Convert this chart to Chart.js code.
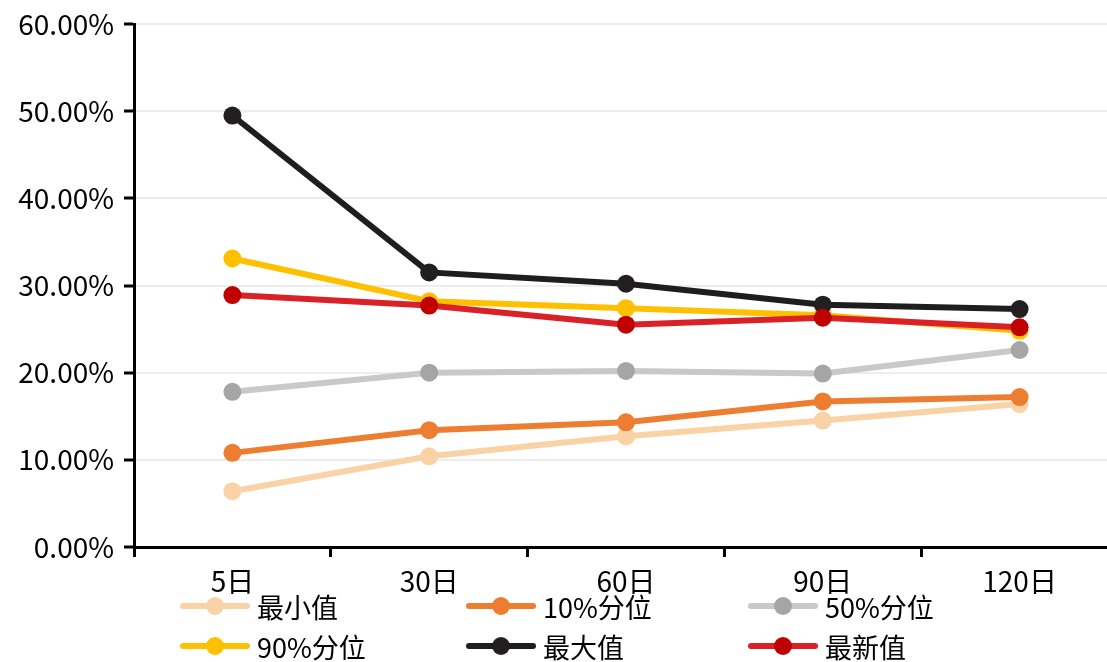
<!DOCTYPE html>
<html>
<head>
<meta charset="utf-8">
<script src="https://cdn.jsdelivr.net/npm/chart.js@4"></script>
<style>
    html, body { margin: 0; padding: 0; background: #fff; overflow: hidden; }
    #wrap { position: relative; width: 1127px; height: 662px; }
    #legend {
        position: absolute; left: 180px; top: 586px;
        display: grid; grid-template-columns: 286px 282px 282px;
        row-gap: 0px;
        font-family: "Noto Sans CJK SC", sans-serif; font-size: 27px; color: #000;
    }
    .item { display: flex; align-items: center; height: 40px; }
    .icon { position: relative; width: 70px; height: 18px; margin-right: 7px; }
    .icon .ln { position: absolute; left: 0; right: 0; top: 6px; height: 6px; border-radius: 3px; }
    .icon .pt { position: absolute; left: 26px; top: 0; width: 18px; height: 18px; border-radius: 50%; }
</style>
</head>
<body>
<div id="wrap">
    <canvas id="lineChart" width="1127" height="662"></canvas>
    <div id="legend"></div>
</div>
<script>
const categories = ['5日', '30日', '60日', '90日', '120日'];
const seriesNames = ['最小值', '10%分位', '50%分位', '90%分位', '最大值', '最新值'];

const minValues = [6.4, 10.4, 12.7, 14.5, 16.4];
const p10Values = [10.8, 13.4, 14.3, 16.7, 17.2];
const p50Values = [17.8, 20.0, 20.2, 19.9, 22.6];
const p90Values = [33.1, 28.2, 27.4, 26.6, 24.8];
const maxValues = [49.5, 31.5, 30.2, 27.8, 27.3];
const latestValues = [28.9, 27.7, 25.5, 26.3, 25.2];

const lineColors = ['#F9D3A5', '#ED7D31', '#C9C9C9', '#FFC000', '#1E1E1E', '#DA2128'];
const pointColors = ['#F9D3A5', '#ED7D31', '#A5A5A5', '#FFC000', '#231F20', '#C00000'];

const allValues = [minValues, p10Values, p50Values, p90Values, maxValues, latestValues];

document.addEventListener('DOMContentLoaded', () => {
    const datasets = allValues.map((values, i) => ({
        label: seriesNames[i],
        data: values,
        borderColor: lineColors[i],
        backgroundColor: pointColors[i],
        pointBackgroundColor: pointColors[i],
        pointBorderColor: pointColors[i],
        borderWidth: 6,
        pointRadius: 9,
        pointBorderWidth: 0,
        tension: 0,
        order: allValues.length - i  // last series drawn on top
    }));

    const ctx = document.getElementById('lineChart').getContext('2d');
    const font = { family: '"Noto Sans CJK SC", sans-serif', size: 28 };

    const chart = new Chart(ctx, {
        type: 'line',
        data: {
            labels: categories,
            datasets: datasets
        },
        options: {
            responsive: false,
            animation: false,
            layout: { padding: { top: 24, right: 0, left: 0, bottom: 0 } },
            scales: {
                x: {
                    offset: true,
                    grid: {
                        offset: true,
                        drawOnChartArea: false,
                        drawTicks: true,
                        tickLength: 10,
                        tickColor: '#000',
                        tickWidth: 3
                    },
                    border: { color: '#000', width: 3 },
                    ticks: { color: '#000', font: font, padding: 8, maxRotation: 0, autoSkip: false },
                    afterFit: s => { s.height = 115; }
                },
                y: {
                    min: 0,
                    max: 60,
                    ticks: {
                        stepSize: 10,
                        color: '#000',
                        font: { family: font.family, size: 28, lineHeight: 1 },
                        padding: 10,
                        callback: v => v.toFixed(2) + '%'
                    },
                    grid: {
                        color: '#EDEDED',
                        lineWidth: 2,
                        tickColor: '#000',
                        tickWidth: 3,
                        tickLength: 10
                    },
                    border: { color: '#000', width: 3 },
                    afterFit: s => { s.width = 134; }
                }
            },
            plugins: {
                legend: { display: false },
                tooltip: { enabled: false }
            }
        }
    });

    // legend html
    const legendEl = document.getElementById('legend');
    chart.data.datasets.forEach((ds, i) => {
        const item = document.createElement('div');
        item.className = 'item';
        item.innerHTML = '<span class="icon"><span class="ln" style="background:' + lineColors[i] +
            '"></span><span class="pt" style="background:' + pointColors[i] + '"></span></span>' +
            '<span>' + ds.label + '</span>';
        legendEl.appendChild(item);
    });
});
</script>
</body>
</html>
